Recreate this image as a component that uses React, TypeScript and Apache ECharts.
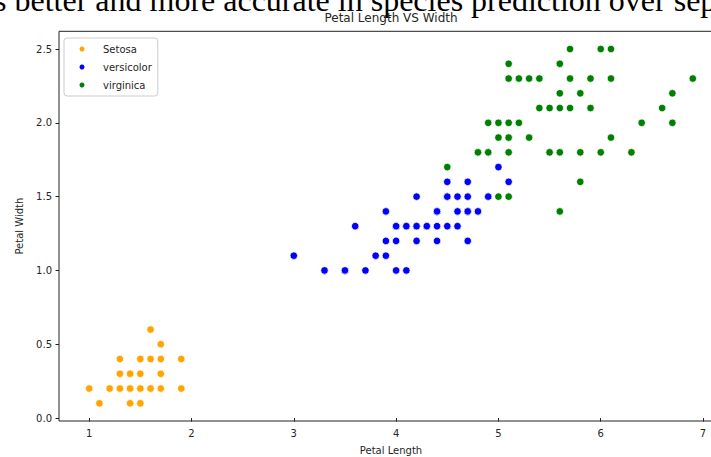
import React, { useEffect, useRef } from "react";
import * as echarts from "echarts";

const headingText = "s better and more accurate in species prediction over sep";
const chartTitle = "Petal Length VS Width";
const xAxisName = "Petal Length";
const yAxisName = "Petal Width";
const xTicks = [1, 2, 3, 4, 5, 6, 7];
const yTicks = [0, 0.5, 1, 1.5, 2, 2.5];
const speciesNames = ["Setosa", "versicolor", "virginica"];
const speciesColors = ["#FFA500", "#0000FF", "#008000"];

const setosaLength = [1.4,1.4,1.3,1.5,1.4,1.7,1.4,1.5,1.4,1.5,1.5,1.6,1.4,1.1,1.2,1.5,1.3,1.4,1.7,1.5,1.7,1.5,1.0,1.7,1.9,1.6,1.6,1.5,1.4,1.6,1.6,1.5,1.5,1.4,1.5,1.2,1.3,1.4,1.3,1.5,1.3,1.3,1.3,1.6,1.9,1.4,1.6,1.4,1.5,1.4];
const setosaWidth = [0.2,0.2,0.2,0.2,0.2,0.4,0.3,0.2,0.2,0.1,0.2,0.2,0.1,0.1,0.2,0.4,0.4,0.3,0.3,0.3,0.2,0.4,0.2,0.5,0.2,0.2,0.4,0.2,0.2,0.2,0.2,0.4,0.1,0.2,0.2,0.2,0.2,0.1,0.2,0.2,0.3,0.3,0.2,0.6,0.4,0.3,0.2,0.2,0.2,0.2];

const versicolorLength = [4.7,4.5,4.9,4.0,4.6,4.5,4.7,3.3,4.6,3.9,3.5,4.2,4.0,4.7,3.6,4.4,4.5,4.1,4.5,3.9,4.8,4.0,4.9,4.7,4.3,4.4,4.8,5.0,4.5,3.5,3.8,3.7,3.9,5.1,4.5,4.5,4.7,4.4,4.1,4.0,4.4,4.6,4.0,3.3,4.2,4.2,4.2,4.3,3.0,4.1];
const versicolorWidth = [1.4,1.5,1.5,1.3,1.5,1.3,1.6,1.0,1.3,1.4,1.0,1.5,1.0,1.4,1.3,1.4,1.5,1.0,1.5,1.1,1.8,1.3,1.5,1.2,1.3,1.4,1.4,1.7,1.5,1.0,1.1,1.0,1.2,1.6,1.5,1.6,1.5,1.3,1.3,1.3,1.2,1.4,1.2,1.0,1.3,1.2,1.3,1.3,1.1,1.3];

const virginicaLength = [6.0,5.1,5.9,5.6,5.8,6.6,4.5,6.3,5.8,6.1,5.1,5.3,5.5,5.0,5.1,5.3,5.5,6.7,6.9,5.0,5.7,4.9,6.7,4.9,5.7,6.0,4.8,4.9,5.6,5.8,6.1,6.4,5.6,5.1,5.6,6.1,5.6,5.5,4.8,5.4,5.6,5.1,5.1,5.9,5.7,5.2,5.0,5.2,5.4,5.1];
const virginicaWidth = [2.5,1.9,2.1,1.8,2.2,2.1,1.7,1.8,1.8,2.5,2.0,1.9,2.1,2.0,2.4,2.3,1.8,2.2,2.3,1.5,2.3,2.0,2.0,1.8,2.1,1.8,1.8,1.8,2.1,1.6,1.9,2.0,2.2,1.5,1.4,2.3,2.4,1.8,1.8,2.1,2.4,2.3,1.9,2.3,2.5,2.3,1.9,2.0,2.3,1.8];

const allLength = [...setosaLength, ...versicolorLength, ...virginicaLength];
const allWidth = [...setosaWidth, ...versicolorWidth, ...virginicaWidth];

function pad(arr: number[]) {
  const lo = Math.min(...arr);
  const hi = Math.max(...arr);
  const m = (hi - lo) * 0.05;
  return [lo - m, hi + m];
}

const zip = (a: number[], b: number[]) => a.map((v, i) => [v, b[i]]);

export default function App() {
  const ref = useRef<HTMLDivElement>(null);
  useEffect(() => {
    if (!ref.current) return;
    const chart = echarts.init(ref.current, null, { renderer: "svg" });
    const [xMin, xMax] = pad(allLength);
    const [yMin, yMax] = pad(allWidth);
    const font = "DejaVu Sans";
    const ink = "#262626";
    const gridLeft = 59;
    const gridTop = 31.3;
    const gridWidth = 664;
    const gridHeight = 389.7;
    const datasets = [
      zip(setosaLength, setosaWidth),
      zip(versicolorLength, versicolorWidth),
      zip(virginicaLength, virginicaWidth),
    ];
    chart.setOption({
      animation: false,
      backgroundColor: "#ffffff",
      title: {
        text: chartTitle,
        left: gridLeft + gridWidth / 2,
        textAlign: "center",
        top: 12,
        padding: 0,
        textStyle: { fontFamily: font, fontSize: 12, fontWeight: "normal", color: ink },
      },
      graphic: [
        {
          type: "text",
          left: -6,
          top: -16,
          silent: true,
          style: {
            text: headingText,
            font: "32px 'Liberation Serif'",
            fill: "#000",
          },
        },
      ],
      legend: {
        orient: "vertical",
        left: 64,
        top: 38,
        data: speciesNames,
        icon: "circle",
        itemWidth: 7,
        itemHeight: 7,
        itemGap: 6,
        padding: [5, 6, 5, 13.5],
        backgroundColor: "#ffffff",
        borderColor: "#cccccc",
        borderWidth: 1,
        borderRadius: 3,
        textStyle: { fontFamily: font, fontSize: 10, color: ink, lineHeight: 12, padding: [0, 0, 0, 12.5] },
      },
      grid: {
        left: gridLeft,
        top: gridTop,
        width: gridWidth,
        height: gridHeight,
        outerBoundsMode: "none",
        containLabel: false,
        show: true,
        borderColor: "#222",
        borderWidth: 1,
        backgroundColor: "transparent",
      },
      xAxis: {
        type: "value",
        min: xMin,
        max: xMax,
        name: xAxisName,
        nameLocation: "middle",
        nameGap: 24,
        nameTextStyle: { fontFamily: font, fontSize: 10, color: ink },
        axisLine: { show: false },
        splitLine: { show: false },
        axisTick: { show: true, length: 3.5, lineStyle: { color: "#222", width: 1 }, customValues: xTicks },
        axisLabel: { fontFamily: font, fontSize: 10, color: ink, margin: 7, customValues: xTicks, formatter: (v: number) => String(v) },
      },
      yAxis: {
        type: "value",
        min: yMin,
        max: yMax,
        name: yAxisName,
        nameLocation: "middle",
        nameGap: 35,
        nameTextStyle: { fontFamily: font, fontSize: 10, color: ink },
        axisLine: { show: false },
        splitLine: { show: false },
        axisTick: { show: true, length: 3.5, lineStyle: { color: "#222", width: 1 }, customValues: yTicks },
        axisLabel: { fontFamily: font, fontSize: 10, color: ink, margin: 7, customValues: yTicks, formatter: (v: number) => v.toFixed(1) },
      },
      series: speciesNames.map((name, i) => ({
        name,
        type: "scatter",
        data: datasets[i],
        symbol: "circle",
        symbolSize: 7.5,
        itemStyle: { color: speciesColors[i], borderColor: "#ffffff", borderWidth: 0.75, opacity: 1 },
        emphasis: { disabled: true },
      })),
    });
    return () => chart.dispose();
  }, []);
  return (
    <div
      ref={ref}
      style={{ position: "absolute", left: 0, top: 0, width: 711, height: 457 }}
    />
  );
}
